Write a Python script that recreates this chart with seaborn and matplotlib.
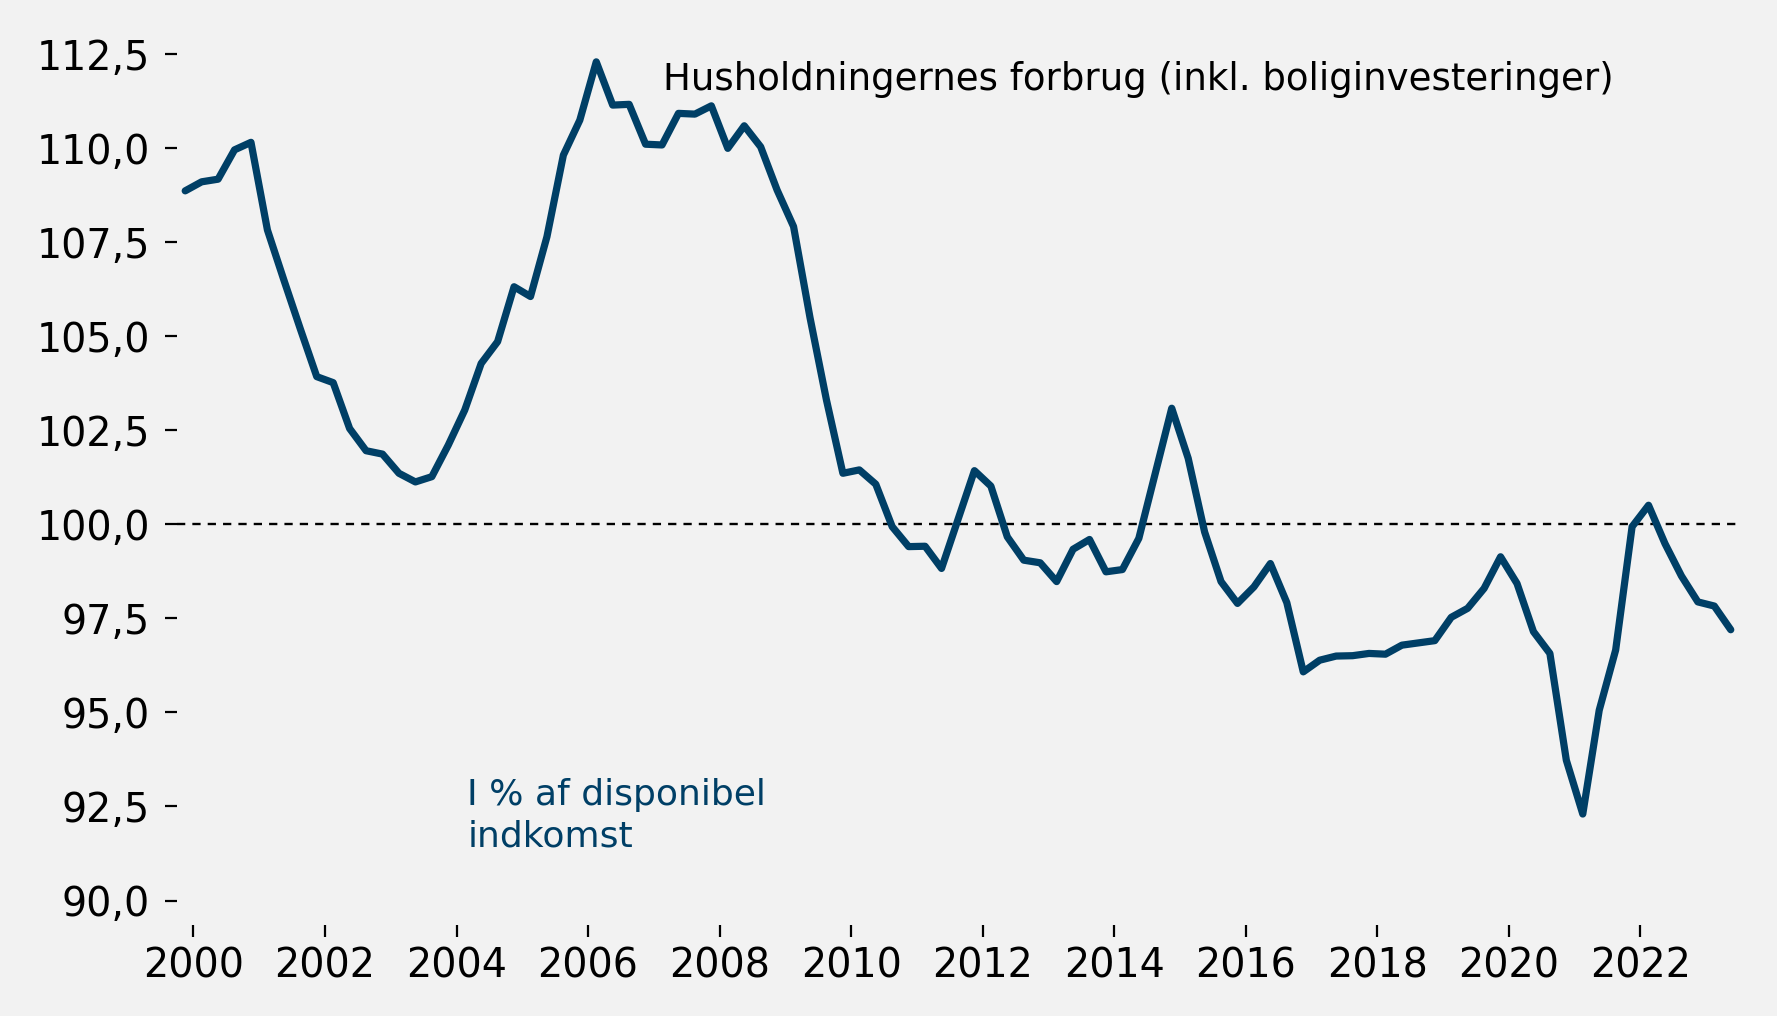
import numpy as np
import pandas as pd
import matplotlib
matplotlib.use("Agg")
import matplotlib.pyplot as plt
import seaborn as sns

# Husholdningernes forbrug i % af disponibel indkomst, kvartalsvis 2000K1-2023K3
forbrug = [
    108.87, 109.11, 109.18, 109.96, 110.16, 107.83, 106.50, 105.20,
    103.93, 103.77, 102.55, 101.96, 101.87, 101.36, 101.13, 101.27,
    102.11, 103.04, 104.28, 104.86, 106.32, 106.06, 107.65, 109.82,
    110.75, 112.30, 111.15, 111.17, 110.11, 110.09, 110.93, 110.91,
    111.13, 110.00, 110.60, 110.04, 108.89, 107.92, 105.50, 103.31,
    101.36, 101.45, 101.07, 99.94, 99.41, 99.42, 98.83, 100.13,
    101.43, 101.02, 99.67, 99.05, 98.98, 98.48, 99.34, 99.60,
    98.74, 98.80, 99.63, 101.36, 103.09, 101.76, 99.80, 98.48,
    97.90, 98.34, 98.96, 97.92, 96.08, 96.39, 96.50, 96.51,
    96.57, 96.55, 96.79, 96.85, 96.91, 97.53, 97.77, 98.30,
    99.14, 98.43, 97.15, 96.57, 93.73, 92.30, 95.06, 96.66,
    99.94, 100.51, 99.49, 98.63, 97.94, 97.83, 97.20,
]
aar = [2000 + i // 4 for i in range(len(forbrug))]
kvartal = [i % 4 + 1 for i in range(len(forbrug))]

y_ticks = [90.0, 92.5, 95.0, 97.5, 100.0, 102.5, 105.0, 107.5, 110.0, 112.5]
y_labels = ["90,0", "92,5", "95,0", "97,5", "100,0", "102,5", "105,0", "107,5", "110,0", "112,5"]
x_aar = [2000, 2002, 2004, 2006, 2008, 2010, 2012, 2014, 2016, 2018, 2020, 2022]

df = pd.DataFrame({"aar": aar, "kvartal": kvartal, "forbrug": forbrug})
df["pos"] = np.arange(len(df))

blaa = "#003f66"
bg = "#f2f2f2"

sns.set_theme(style="white")
plt.rcParams["font.family"] = ["DejaVu Sans"]

fig = plt.figure(figsize=(17.77, 10.16), dpi=100, facecolor=bg)
ax = fig.add_axes([0.0996, 0.0896, 0.879, 0.871])
ax.set_facecolor(bg)

sns.lineplot(data=df, x="pos", y="forbrug", color=blaa, linewidth=5.2, ax=ax)
ax.axhline(100, color="black", linewidth=1.7, linestyle=(0, (3.5, 3)), zorder=1)

# aksetiks: årstal midt i første kvartal
tick_pos = [df.loc[(df["aar"] == a) & (df["kvartal"] == 1), "pos"].iloc[0] + 0.5 for a in x_aar]
ax.set_xticks(tick_pos)
ax.set_xticklabels([str(a) for a in x_aar])
ax.set_yticks(y_ticks)
ax.set_yticklabels(y_labels)
ax.set_xlim(-0.5, len(df) - 0.5)
ax.set_ylim(89.35, 112.88)

ax.tick_params(axis="both", which="major", direction="out", length=8.5, width=1.6,
               color="black", labelsize=28.5, labelcolor="black", bottom=True, left=True)
ax.tick_params(axis="y", pad=11)
ax.tick_params(axis="x", pad=7)
for s in ax.spines.values():
    s.set_visible(False)
ax.set_xlabel("")
ax.set_ylabel("")

fig.text(0.373, 0.922, "Husholdningernes forbrug (inkl. boliginvesteringer)",
         fontsize=26.7, color="black", va="center", ha="left")
fig.text(0.263, 0.234, "I % af disponibel\nindkomst", fontsize=26, color=blaa,
         va="top", ha="left", linespacing=1.25)

plt.savefig("out.png", dpi=100, facecolor=bg)
